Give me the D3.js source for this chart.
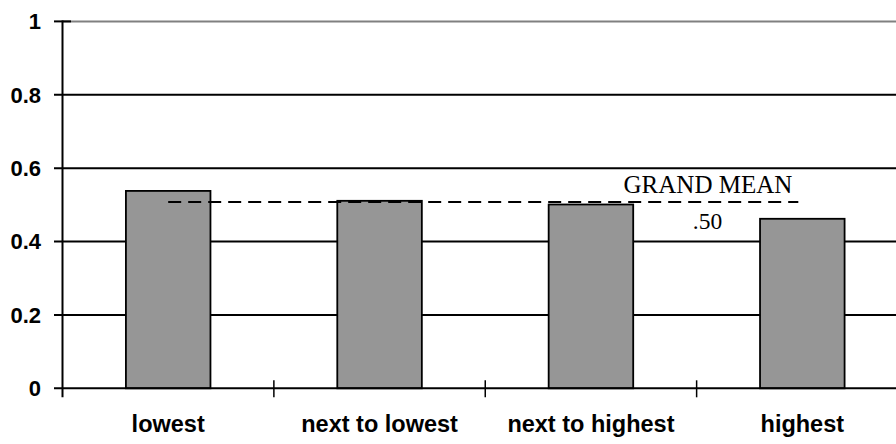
<!DOCTYPE html>
<html>
<head>
<meta charset="utf-8">
<script src="https://cdn.jsdelivr.net/npm/d3@7"></script>
<style>
  html, body { margin: 0; padding: 0; background: #fff; }
  svg { display: block; }
</style>
</head>
<body>
<svg id="chart" width="896" height="444"></svg>
<script>
const categories = ["lowest", "next to lowest", "next to highest", "highest"];
const values = [0.538, 0.511, 0.501, 0.462];
const yTicks = [0, 0.2, 0.4, 0.6, 0.8, 1];
const yTickLabels = ["0", "0.2", "0.4", "0.6", "0.8", "1"];
const grandMean = 0.508;
const grandMeanLabel = "GRAND MEAN";
const grandMeanValueLabel = ".50";

const svg = d3.select("#chart");
const W = 896;
const y = d3.scaleLinear().domain([0, 1]).range([388.3, 21.4]);
const x = d3.scaleBand().domain(categories).range([62.5, 908]).padding(0);
const barW = x.bandwidth() * 0.4;

// gridlines
svg.append("g").selectAll("line")
  .data(yTicks.filter(d => d > 0 && d < 1))
  .join("line")
  .attr("x1", 54).attr("x2", W)
  .attr("y1", d => y(d)).attr("y2", d => y(d))
  .attr("stroke", "#000").attr("stroke-width", 2);

// top border (grey)
svg.append("line")
  .attr("x1", 62.5).attr("x2", W)
  .attr("y1", y(1)).attr("y2", y(1))
  .attr("stroke", "#808080").attr("stroke-width", 2);
svg.append("line")
  .attr("x1", 54).attr("x2", 71)
  .attr("y1", y(1)).attr("y2", y(1))
  .attr("stroke", "#000").attr("stroke-width", 2);

// bars
svg.append("g").selectAll("rect")
  .data(values)
  .join("rect")
  .attr("x", (d, i) => x(categories[i]) + (x.bandwidth() - barW) / 2)
  .attr("width", barW)
  .attr("y", d => y(d))
  .attr("height", d => y(0) - y(d))
  .attr("fill", "#969696")
  .attr("stroke", "#000")
  .attr("stroke-width", 1.8);

// x axis line
svg.append("line")
  .attr("x1", 54).attr("x2", W)
  .attr("y1", y(0)).attr("y2", y(0))
  .attr("stroke", "#000").attr("stroke-width", 2);

// y axis line
svg.append("line")
  .attr("x1", 62.5).attr("x2", 62.5)
  .attr("y1", y(1) - 1).attr("y2", y(0) + 9)
  .attr("stroke", "#000").attr("stroke-width", 2);

// x category ticks
svg.append("g").selectAll("line")
  .data(categories.slice(1))
  .join("line")
  .attr("x1", d => x(d)).attr("x2", d => x(d))
  .attr("y1", y(0) - 8).attr("y2", y(0) + 9)
  .attr("stroke", "#000").attr("stroke-width", 1.5);

// y tick labels
svg.append("g").selectAll("text")
  .data(yTicks)
  .join("text")
  .attr("x", 41)
  .attr("y", d => y(d))
  .attr("dy", "0.36em")
  .attr("text-anchor", "end")
  .attr("font-family", "Liberation Sans, Arial, sans-serif")
  .attr("font-weight", "bold")
  .attr("font-size", 22)
  .text((d, i) => yTickLabels[i]);

// x labels
svg.append("g").selectAll("text")
  .data(categories)
  .join("text")
  .attr("x", d => x(d) + x.bandwidth() / 2)
  .attr("y", 432)
  .attr("text-anchor", "middle")
  .attr("font-family", "Liberation Sans, Arial, sans-serif")
  .attr("font-weight", "bold")
  .attr("font-size", 23.5)
  .text(d => d);

// grand mean dashed line
const gmX1 = x(categories[0]) + x.bandwidth() / 2;
const gmX2 = x(categories[3]) + x.bandwidth() / 2 - 4;
svg.append("line")
  .attr("x1", gmX1).attr("x2", gmX2)
  .attr("y1", y(grandMean)).attr("y2", y(grandMean))
  .attr("stroke", "#000").attr("stroke-width", 2)
  .attr("stroke-dasharray", "13,7");

svg.append("text")
  .attr("x", gmX2 - 6)
  .attr("y", y(grandMean) - 8.5)
  .attr("text-anchor", "end")
  .attr("font-family", "Liberation Serif, Times New Roman, serif")
  .attr("font-size", 25)
  .text(grandMeanLabel);

svg.append("text")
  .attr("x", 707.5)
  .attr("y", y(grandMean) + 27)
  .attr("text-anchor", "middle")
  .attr("font-family", "Liberation Serif, Times New Roman, serif")
  .attr("font-size", 23.5)
  .text(grandMeanValueLabel);
</script>
</body>
</html>
